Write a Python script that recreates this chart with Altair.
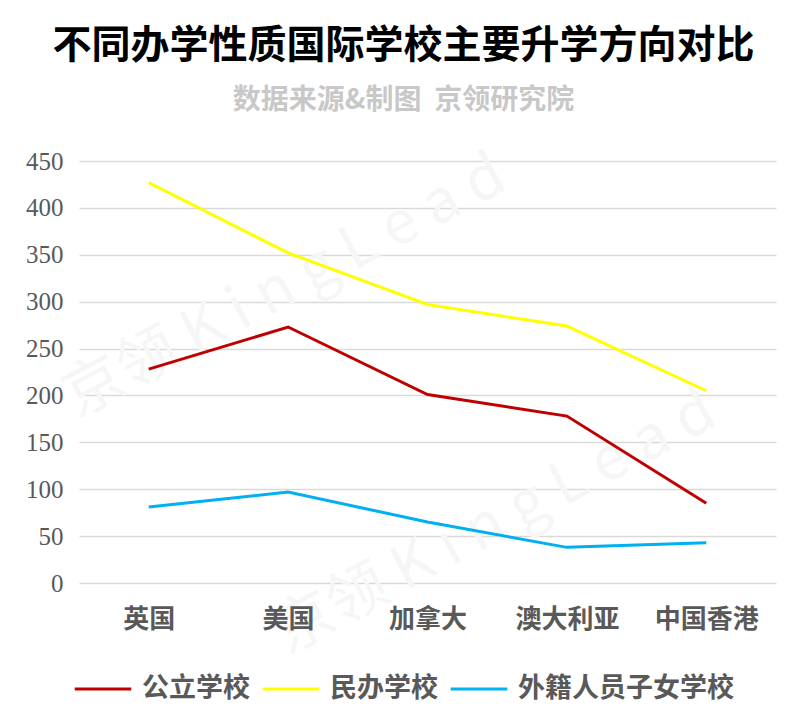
import altair as alt
import pandas as pd

categories = ["英国", "美国", "加拿大", "澳大利亚", "中国香港"]
series_names = ["公立学校", "民办学校", "外籍人员子女学校"]
public_vals = [228, 273, 201, 178, 85]
private_vals = [427, 352, 297, 274, 205]
foreign_vals = [81, 97, 65, 38, 43]
colors = ["#C00000", "#FFFF00", "#00B0F0"]
y_ticks = [0, 50, 100, 150, 200, 250, 300, 350, 400, 450]

title_text = "不同办学性质国际学校主要升学方向对比"
subtitle_text = "数据来源&制图\u00a0\u00a0京领研究院"
watermark_text = "京领  K i n g L e a d"

rows = []
for name, vals in zip(series_names, [public_vals, private_vals, foreign_vals]):
    for c, v in zip(categories, vals):
        rows.append({"地区": c, "类型": name, "人数": v})
df = pd.DataFrame(rows)

CJK = "Noto Sans CJK SC"
SERIF = "Liberation Serif"

wm = alt.Chart(pd.DataFrame({"t": [watermark_text]})).mark_text(
    angle=332, fontSize=60, font=CJK, color="#f6f6f6", fontWeight="normal"
)
wm1 = wm.encode(text="t:N", x=alt.value(206), y=alt.value(126))
wm2 = wm.encode(text="t:N", x=alt.value(416), y=alt.value(362))

lines = alt.Chart(df).mark_line(strokeWidth=3).encode(
    x=alt.X(
        "地区:N",
        sort=categories,
        scale=alt.Scale(type="point", padding=0.5),
        axis=alt.Axis(
            title=None, labelAngle=0, domain=False, ticks=False, grid=False,
            labelFont=CJK, labelFontSize=26, labelColor="#595959",
            labelFontWeight="bold", labelPadding=23, zindex=1,
        ),
    ),
    y=alt.Y(
        "人数:Q",
        scale=alt.Scale(domain=[0, 450], nice=False),
        axis=alt.Axis(
            title=None, values=y_ticks, domain=False, ticks=False,
            labelFont=SERIF, labelFontSize=25, labelColor="#595959",
            labelPadding=16, gridColor="#d9d9d9", gridWidth=1.5,
        ),
    ),
    color=alt.Color(
        "类型:N",
        sort=series_names,
        scale=alt.Scale(domain=series_names, range=colors),
        legend=alt.Legend(
            title=None, orient="none", direction="horizontal",
            legendX=-6, legendY=498, symbolType="stroke",
            symbolSize=3200, symbolStrokeWidth=3, labelFont=CJK,
            labelFontSize=27, labelFontWeight="bold", labelColor="#595959",
            labelOffset=9, columnPadding=6, padding=0, labelLimit=0,
        ),
    ),
)

chart = (
    alt.layer(wm1, wm2, lines)
    .properties(
        width=697,
        height=422,
        autosize=alt.AutoSizeParams(type="none"),
        padding={"left": 71, "top": 153, "right": 14, "bottom": 131},
        view=alt.ViewBackground(stroke="transparent", strokeWidth=0),
        title=alt.TitleParams(
            text=title_text,
            subtitle=subtitle_text,
            anchor="middle",
            dx=-24,
            offset=27,
            font=CJK,
            fontSize=39,
            fontWeight="bold",
            color="#000000",
            subtitleFont=CJK,
            subtitleFontSize=28,
            subtitleFontWeight="bold",
            subtitleColor="#c8c8c8",
            subtitlePadding=21,
        ),
    )
    .configure_view(strokeWidth=0, stroke="transparent")
    .configure_axis(domain=False)
    .configure(background="white")
)

chart.save("out.html", embed_options={"renderer": "svg", "actions": False})
